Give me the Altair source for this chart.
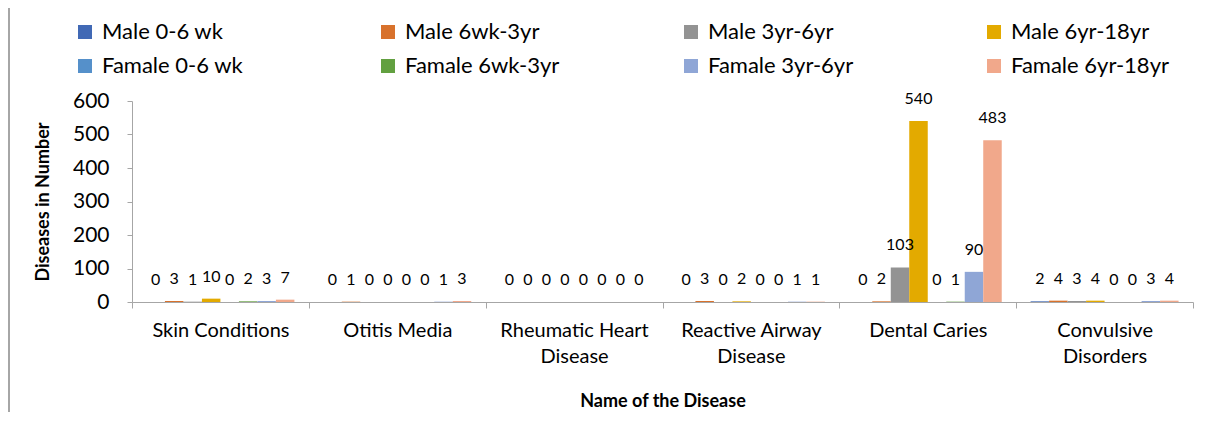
import altair as alt
import pandas as pd

diseases = ["Skin Conditions", "Otitis Media", "Rheumatic Heart|Disease",
            "Reactive Airway|Disease", "Dental Caries", "Convulsive|Disorders"]
groups = ["Male 0-6 wk", "Male 6wk-3yr", "Male 3yr-6yr", "Male 6yr-18yr",
          "Famale 0-6 wk", "Famale 6wk-3yr", "Famale 3yr-6yr", "Famale 6yr-18yr"]
colors = ["#4169B5", "#D8722C", "#939393", "#E3AA00",
          "#5590CA", "#62A040", "#8FA6D6", "#F1A88B"]
y_ticks = [0, 100, 200, 300, 400, 500, 600]

male_0_6wk = [0, 0, 0, 0, 0, 2]
male_6wk_3yr = [3, 1, 0, 3, 2, 4]
male_3yr_6yr = [1, 0, 0, 0, 103, 3]
male_6yr_18yr = [10, 0, 0, 2, 540, 4]
famale_0_6wk = [0, 0, 0, 0, 0, 0]
famale_6wk_3yr = [2, 0, 0, 0, 1, 0]
famale_3yr_6yr = [3, 1, 0, 1, 90, 3]
famale_6yr_18yr = [7, 3, 0, 1, 483, 4]

series = [male_0_6wk, male_6wk_3yr, male_3yr_6yr, male_6yr_18yr,
          famale_0_6wk, famale_6wk_3yr, famale_3yr_6yr, famale_6yr_18yr]

rows = []
for g, vals in zip(groups, series):
    for d, v in zip(diseases, vals):
        rows.append({"disease": d, "group": g, "value": v})
df = pd.DataFrame(rows)

W, H = 1061, 201
FONT = "Lato"

x_enc = alt.X(
    "disease:N", sort=diseases,
    scale=alt.Scale(paddingInner=0, paddingOuter=0),
    axis=alt.Axis(
        title="Name of the Disease", titleFontWeight="bold", titleFontSize=18,
        titleColor="#000", titlePadding=26,
        labelExpr="split(datum.label, '|')", labelAngle=0, labelFontSize=20,
        labelColor="#000", labelPadding=12, labelLineHeight=26,
        tickBand="extent", tickSize=6, tickColor="#A6A6A6",
        domainColor="#A6A6A6", grid=False,
    ),
)
xoff_enc = alt.XOffset("group:N", sort=groups,
                       scale=alt.Scale(paddingInner=0, paddingOuter=0.78))
y_enc = alt.Y("value:Q", scale=alt.Scale(domain=[0, 600], nice=False),
              axis=alt.Axis(title="Diseases in Number", titleFontWeight="bold",
                            titleFontSize=18, titleColor="#000", titlePadding=20,
                            values=y_ticks, labelOverlap=False,
                            labelFontSize=21, labelColor="#000", labelPadding=18,
                            tickSize=5, tickColor="#A6A6A6",
                            domainColor="#A6A6A6", grid=False))

base = alt.Chart(df).encode(x=x_enc, xOffset=xoff_enc, y=y_enc)

bars = base.mark_bar().encode(
    color=alt.Color("group:N", sort=groups,
                    scale=alt.Scale(domain=groups, range=colors),
                    legend=alt.Legend(title=None, orient="none", legendX=-58,
                                      legendY=-80, direction="horizontal",
                                      columns=4, gridAlign="all",
                                      columnPadding=117, rowPadding=12,
                                      symbolType="square", symbolSize=196,
                                      symbolStrokeWidth=0, labelFontSize=22,
                                      labelColor="#000", labelOffset=6,
                                      labelLimit=300)),
)

labels = base.mark_text(dy=-22, fontSize=16, baseline="middle",
                        color="#000").encode(text=alt.Text("value:Q"))

border = alt.Chart(pd.DataFrame({"a": [0]})).mark_rule(
    color="#A6A6A6", strokeWidth=2
).encode(x=alt.value(-123), y=alt.value(-93), y2=alt.value(H + 120))

chart = alt.layer(bars, labels, border).properties(
    width=W, height=H,
    autosize=alt.AutoSizeParams(type="none"),
    padding={"left": 124, "top": 93, "right": 20, "bottom": 110},
).configure(font=FONT).configure_view(stroke=None)

chart.save("out.html", embed_options={"renderer": "svg", "actions": False})
